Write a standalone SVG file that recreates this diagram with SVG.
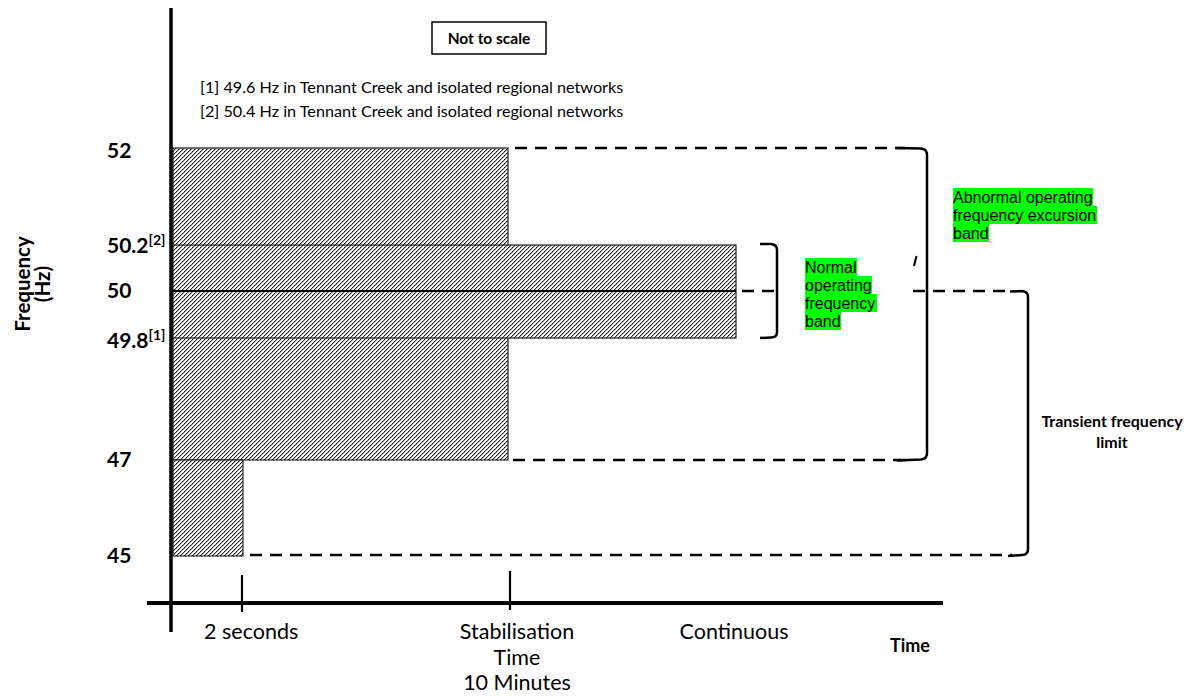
<svg xmlns="http://www.w3.org/2000/svg" width="1196" height="697" viewBox="0 0 1196 697">
<style>
.cal{font-family:Lato,"Liberation Sans",sans-serif;fill:#000}
.b{font-weight:bold}
.ari{font-family:"Liberation Sans",Arial,sans-serif;font-size:16px;fill:#000}
.hl{fill:#00ff00}
.dash{stroke:#000;stroke-width:2.5;stroke-dasharray:12 8;fill:none}
.brk{stroke:#000;stroke-width:2.5;fill:none}
.band{fill:url(#hatch);stroke:#222;stroke-width:1.2}
</style>
<defs>
<pattern id="hatch" width="8" height="8" patternUnits="userSpaceOnUse">
<rect width="8" height="8" fill="#fff"/>
<path shape-rendering="crispEdges" fill="#000" d="M0 3h1v1h-1zM0 7h1v1h-1zM2 1h1v1h-1zM2 5h1v1h-1zM4 3h1v1h-1zM4 7h1v1h-1zM6 1h1v1h-1zM6 5h1v1h-1z"/>
<path shape-rendering="crispEdges" fill="#444" d="M1 2h1v1h-1zM1 6h1v1h-1zM3 0h1v1h-1zM3 4h1v1h-1zM5 2h1v1h-1zM5 6h1v1h-1zM7 0h1v1h-1zM7 4h1v1h-1z"/>
<path shape-rendering="crispEdges" fill="#aaa" d="M0 0h1v1h-1zM0 4h1v1h-1zM1 3h1v1h-1zM1 7h1v1h-1zM2 2h1v1h-1zM2 6h1v1h-1zM3 1h1v1h-1zM3 5h1v1h-1zM4 0h1v1h-1zM4 4h1v1h-1zM5 3h1v1h-1zM5 7h1v1h-1zM6 2h1v1h-1zM6 6h1v1h-1zM7 1h1v1h-1zM7 5h1v1h-1z"/>
</pattern>
</defs>

<g id="bands">
<rect class="band" x="173" y="148" width="335" height="312"/>
<rect class="band" x="173" y="245" width="563" height="93"/>
<line x1="173" y1="291" x2="736" y2="291" stroke="#000" stroke-width="2"/>
<rect class="band" x="173" y="460" width="70" height="96"/>
</g>

<g id="axes" stroke="#000">
<line x1="171" y1="8" x2="171" y2="632" stroke-width="3.5"/>
<line x1="147" y1="603" x2="943" y2="603" stroke-width="4"/>
<line x1="242" y1="575" x2="242" y2="612" stroke-width="2.2"/>
<line x1="510" y1="571" x2="510" y2="610" stroke-width="2.2"/>
</g>

<g id="connectors">
<line class="dash" x1="515" y1="148" x2="905" y2="148"/>
<line class="dash" x1="513" y1="460" x2="905" y2="460"/>
<line class="dash" x1="742" y1="291" x2="776" y2="291"/>
<line class="dash" x1="913" y1="291" x2="1012" y2="291"/>
<line class="dash" x1="250" y1="555" x2="1012" y2="555"/>
<path class="brk" d="M897,148 L921,148.5 Q927,149 927,155 L927,453 Q927,459 921,459.5 L897,460.5"/>
<path class="brk" d="M760,244 L771,244 Q777,244.5 777,250 L777,332 Q777,337.5 771,337.5 L760,338"/>
<path class="brk" d="M1010,291.5 L1022,291 Q1028,291.5 1028,297 L1028,549 Q1028,555 1022,555 L1008,556"/>
<line x1="914" y1="266" x2="916.5" y2="256" stroke="#000" stroke-width="2"/>
</g>

<g id="note">
<rect x="432" y="22" width="114" height="32" fill="#fff" stroke="#000" stroke-width="1.5"/>
<text class="cal b" x="489" y="44" font-size="15.5" text-anchor="middle">Not to scale</text>
<text class="cal" x="200" y="93" font-size="16.2">[1] 49.6 Hz in Tennant Creek and isolated regional networks</text>
<text class="cal" x="200" y="117" font-size="16.2">[2] 50.4 Hz in Tennant Creek and isolated regional networks</text>
</g>

<g id="y-labels" class="cal b" font-size="21">
<text x="107" y="158">52</text>
<text x="107" y="253">50.2<tspan font-size="14" dy="-8">[2]</tspan></text>
<text x="107" y="298">50</text>
<text x="107" y="348">49.8<tspan font-size="14" dy="-8">[1]</tspan></text>
<text x="107" y="467">47</text>
<text x="107" y="563">45</text>
</g>

<g id="y-title" class="cal b" font-size="20.5" text-anchor="middle" transform="translate(30,284) rotate(-90)">
<text x="0" y="0">Frequency</text>
<text x="0" y="20">(Hz)</text>
</g>

<g id="x-labels" class="cal" font-size="21.5">
<text x="204" y="639">2 seconds</text>
<text x="517" y="639" text-anchor="middle">Stabilisation</text>
<text x="517" y="665" text-anchor="middle">Time</text>
<text x="517" y="690" text-anchor="middle">10 Minutes</text>
<text x="734" y="639" text-anchor="middle">Continuous</text>
<text class="b" x="910" y="652" font-size="18" text-anchor="middle">Time</text>
</g>

<g id="normal-band">
<rect class="hl" x="805" y="258" width="52" height="18"/>
<rect class="hl" x="805" y="276" width="67" height="18"/>
<rect class="hl" x="805" y="294" width="72" height="18"/>
<rect class="hl" x="805" y="312" width="36" height="18"/>
<text class="ari" x="805" y="273">Normal</text>
<text class="ari" x="805" y="291">operating</text>
<text class="ari" x="805" y="309">frequency</text>
<text class="ari" x="805" y="327">band</text>
</g>

<g id="abnormal-band">
<rect class="hl" x="953" y="188" width="140" height="18"/>
<rect class="hl" x="953" y="206" width="144" height="18"/>
<rect class="hl" x="953" y="224" width="36" height="18"/>
<text class="ari" x="953" y="203">Abnormal operating</text>
<text class="ari" x="953" y="221">frequency excursion</text>
<text class="ari" x="953" y="239">band</text>
</g>

<g id="transient" class="cal b" font-size="16" text-anchor="middle">
<text x="1112" y="427">Transient frequency</text>
<text x="1112" y="448">limit</text>
</g>
</svg>
